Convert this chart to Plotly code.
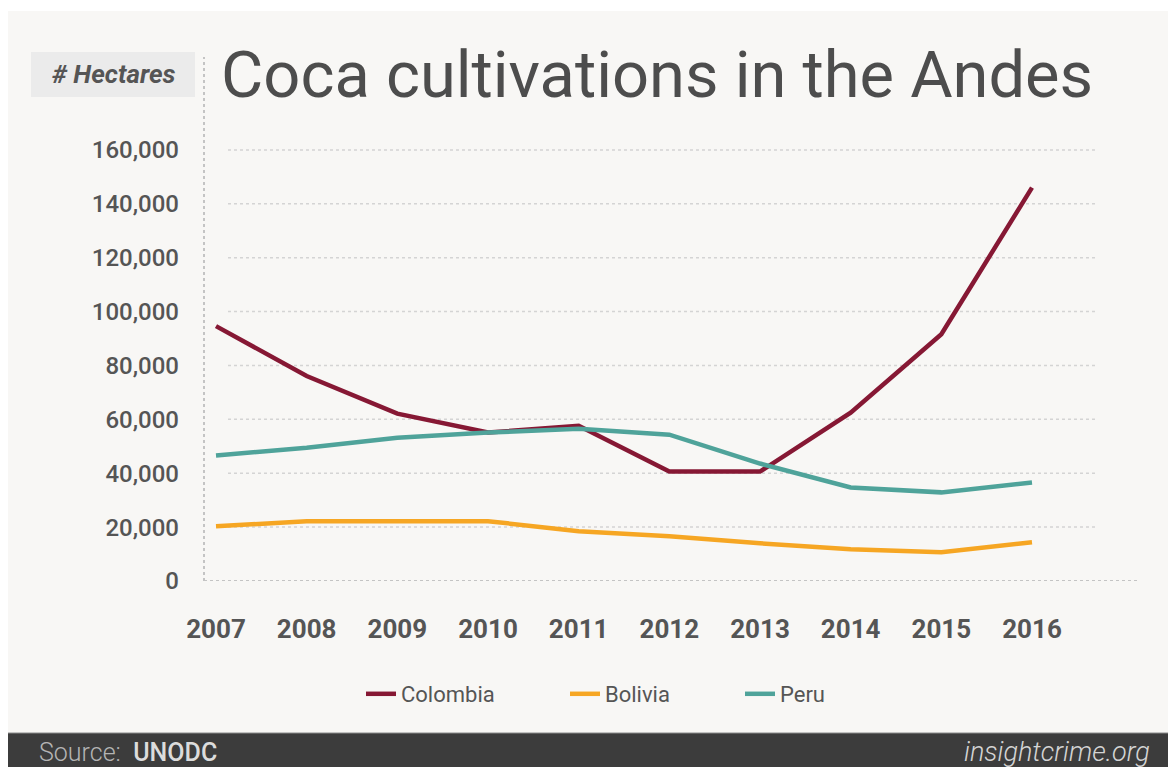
import plotly.graph_objects as go

years = [2007, 2008, 2009, 2010, 2011, 2012, 2013, 2014, 2015, 2016]
colombia = [94600, 76100, 62100, 55100, 57600, 40600, 40600, 62500, 91600, 146000]
bolivia = [20300, 22200, 22200, 22200, 18500, 16600, 14000, 11800, 10700, 14400]
peru = [46600, 49500, 53200, 55100, 56500, 54300, 43600, 34700, 32900, 36600]
y_ticks = [0, 20000, 40000, 60000, 80000, 100000, 120000, 140000, 160000]
y_tick_labels = ["0", "20,000", "40,000", "60,000", "80,000", "100,000", "120,000", "140,000", "160,000"]

W, H = 1176, 767
OFF = 8  # page body margin around the figure
# plot area in page pixels: x 204..1137, y 57..581
L, R = 204 - OFF, W - (1137 - OFF)
T, B = 57 - OFF, H - (581 - OFF)
PW, PH = W - L - R, H - T - B


def px(x):
    """page x pixel -> paper fraction"""
    return (x - OFF - L) / PW


def py(y):
    """page y pixel -> paper fraction"""
    return (H - B - (y - OFF)) / PH


C_COL = "#861834"
C_BOL = "#f6a623"
C_PER = "#4fa39a"
TXT = "#555555"

fig = go.Figure()
series = [("Colombia", colombia, C_COL, "legend"), ("Bolivia", bolivia, C_BOL, "legend2"),
          ("Peru", peru, C_PER, "legend3")]
for name, vals, col, lg in series:
    fig.add_trace(go.Scatter(x=years, y=vals, mode="lines", name=name,
                             line=dict(color=col, width=4.5), legend=lg,
                             hoverinfo="x+y+name"))

shapes = []
# background panel
shapes.append(dict(type="rect", xref="paper", yref="paper", x0=px(0), x1=px(1200), y0=py(733), y1=py(11),
                   fillcolor="#f8f7f5", line=dict(width=0), layer="below"))
# footer
shapes.append(dict(type="rect", xref="paper", yref="paper", x0=px(0), x1=px(1200), y0=py(800), y1=py(733),
                   fillcolor="#3c3c3c", line=dict(width=0), layer="below"))
shapes.append(dict(type="line", xref="paper", yref="paper", x0=px(0), x1=px(1200), y0=py(733), y1=py(733),
                   line=dict(color="#8a8a8a", width=1)))
# label box
shapes.append(dict(type="rect", xref="paper", yref="paper", x0=px(31), x1=px(195), y0=py(97), y1=py(52),
                   fillcolor="#ebebeb", line=dict(width=0), layer="below"))
# gridlines
for v in y_ticks[1:]:
    shapes.append(dict(type="line", xref="paper", yref="y", x0=px(228), x1=px(1097), y0=v, y1=v,
                       line=dict(color="#d4d4d4", width=1.5, dash="dot"), layer="below"))
# zero line and vertical axis line
shapes.append(dict(type="line", xref="paper", yref="y", x0=0, x1=1, y0=0, y1=0,
                   line=dict(color="#c4c4c4", width=2, dash="dot"), layer="below"))
shapes.append(dict(type="line", xref="paper", yref="paper", x0=0, x1=0, y0=0, y1=1,
                   line=dict(color="#c4c4c4", width=2, dash="dot"), layer="below"))

annotations = [
    dict(text="Coca cultivations in the Andes", xref="paper", yref="paper", x=px(219), y=py(75),
         xanchor="left", yanchor="middle", showarrow=False,
         font=dict(family="Roboto", size=65, color="#4d4d4d")),
    dict(text="# Hectares", xref="paper", yref="paper", x=px(114), y=py(74),
         xanchor="center", yanchor="middle", showarrow=False,
         font=dict(family="Roboto", size=26, color=TXT, weight="bold", style="italic")),
    dict(text="<span style='font-weight:300;color:#b4b4b4'>Source:</span>  UNODC", xref="paper", yref="paper",
         x=px(37), y=py(752), xanchor="left", yanchor="middle", showarrow=False,
         font=dict(family="Roboto", size=25, color="#dcdcdc", weight=500)),
    dict(text="<i>insightcrime.org</i>", xref="paper", yref="paper", x=px(1152), y=py(752),
         xanchor="right", yanchor="middle", showarrow=False,
         font=dict(family="Roboto", size=27, color="#d4d4d4", weight=300)),
]

leg_common = dict(orientation="h", bgcolor="rgba(0,0,0,0)", xanchor="left", yanchor="middle",
                  font=dict(family="Roboto", size=22, color=TXT), itemwidth=30)
fig.update_layout(
    width=W, height=H,
    margin=dict(l=L, r=R, t=T, b=B, pad=0),
    paper_bgcolor="white", plot_bgcolor="rgba(0,0,0,0)",
    showlegend=True,
    legend=dict(x=px(361), y=py(694), **leg_common),
    legend2=dict(x=px(565), y=py(694), **leg_common),
    legend3=dict(x=px(740), y=py(694), **leg_common),
    shapes=shapes, annotations=annotations,
    xaxis=dict(range=[2007 - 12 / 90.67, 2016 + 105 / 90.67], tickvals=years, ticktext=[str(y) for y in years],
               showgrid=False, zeroline=False, showline=False, ticks="",
               tickfont=dict(family="Roboto", size=26, color=TXT, weight="bold"),
               ticklabelstandoff=30, fixedrange=True),
    yaxis=dict(range=[0, (581 - 57) / 2.694 * 1000], tickvals=y_ticks, ticktext=y_tick_labels,
               showgrid=False, zeroline=False, showline=False, ticks="",
               tickfont=dict(family="Roboto", size=24, color=TXT, weight=500),
               ticklabelstandoff=24, fixedrange=True),
)

fig.write_html("out.html")
